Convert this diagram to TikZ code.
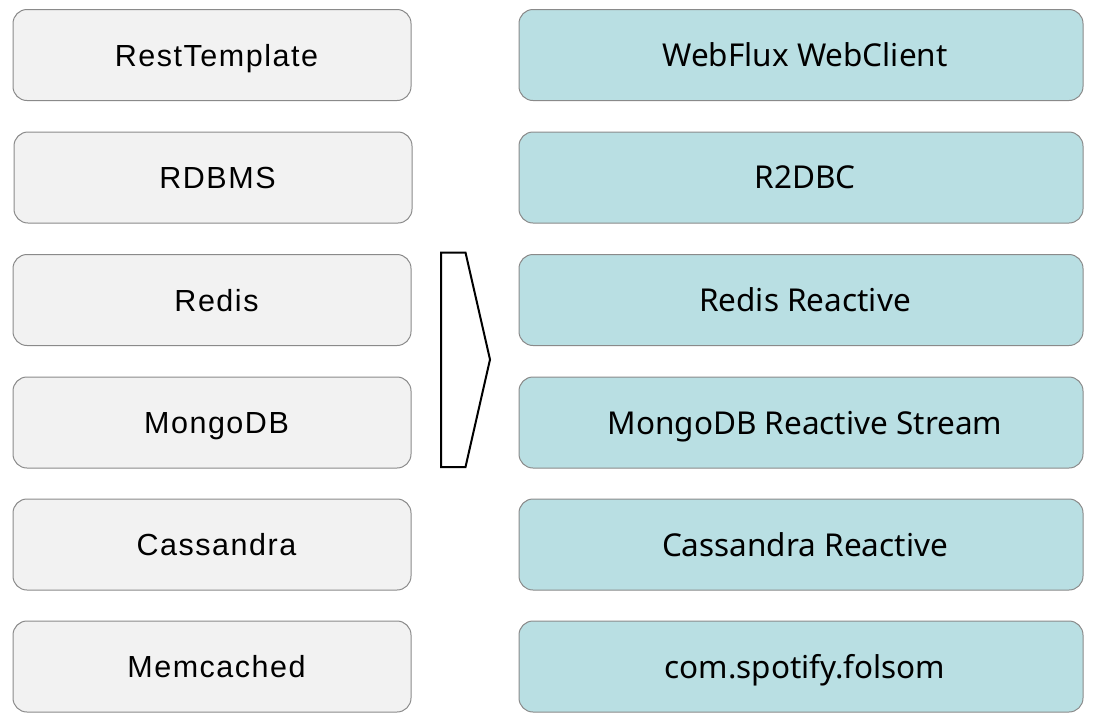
\documentclass[tikz,border=0pt]{standalone}
\usepackage{fontspec}
\usepackage{xcolor}
\usepackage{tikz}
\setmainfont{Liberation Sans}
\newfontfamily\leftfont[LetterSpace=5]{Liberation Sans}
\newfontfamily\rightfont{Noto Sans}
\usetikzlibrary{arrows.meta}

\definecolor{oldfill}{HTML}{F2F2F2}
\definecolor{newfill}{HTML}{B9DFE3}
\definecolor{boxline}{HTML}{8A8A8A}

\tikzset{
    oldbox/.style={draw=boxline, line width=1pt, fill=oldfill, rounded corners=14pt,
        minimum width=398pt, minimum height=91pt, text depth=0pt,
        execute at begin node=\hspace*{9pt},
        font=\leftfont\fontsize{30.5}{36}\selectfont},
    newbox/.style={draw=boxline, line width=1pt, fill=newfill, rounded corners=14pt,
        minimum width=564pt, minimum height=91pt, text depth=0pt,
        execute at begin node=\hspace*{8pt},
        font=\rightfont\fontsize{31.5}{36}\selectfont}
}

\begin{document}
\begin{tikzpicture}[x=1pt,y=-1pt]
                \useasboundingbox (0,0) rectangle (1094,724);

                % left column
                \node[oldbox] (rest) at (212,55) {RestTemplate};
                \node[oldbox] (rdbms) at (213,177.5) {RDBMS};
                \node[oldbox] (redis) at (212,300) {Redis};
                \node[oldbox] (mongo) at (212,422.5) {MongoDB};
                \node[oldbox] (cass) at (212,544.5) {Cassandra};
                \node[oldbox] (memc) at (212,666.5) {Memcached};

                % right column
                \node[newbox] (webclient) at (801,55) {WebFlux WebClient};
                \node[newbox] (r2dbc) at (801,177.5) {R2DBC};
                \node[newbox] (redisr) at (801,300) {Redis Reactive};
                \node[newbox] (mongor) at (801,422.5) {MongoDB Reactive Stream};
                \node[newbox] (cassr) at (801,544.5) {Cassandra Reactive};
                \node[newbox] (folsom) at (801,666.5) {com.spotify.folsom};

                % chevron
                \draw[line width=2pt, fill=white, line join=miter]
                    (441,252.5) -- (465.5,252.5) -- (490,359.5) -- (465.5,467) -- (441,467) -- cycle;
             \end{tikzpicture}
\end{document}
